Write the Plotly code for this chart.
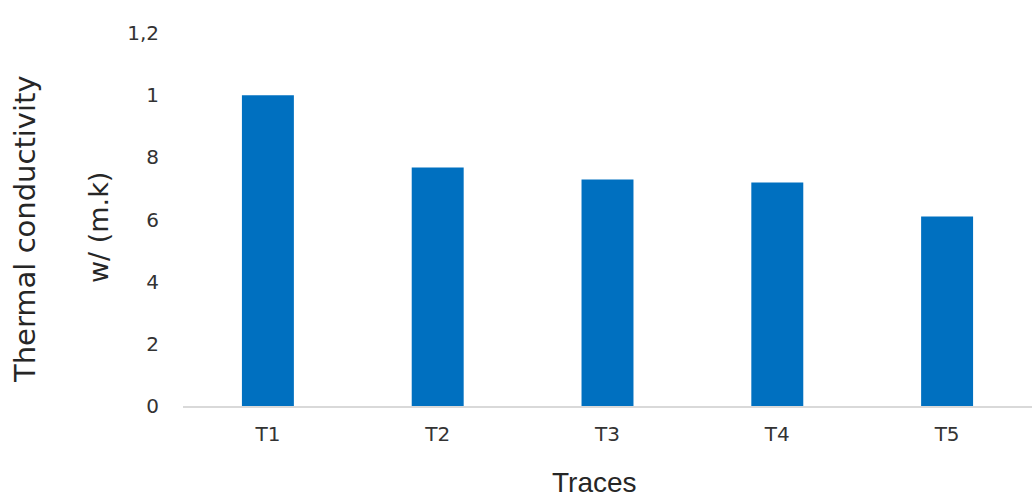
import plotly.graph_objects as go

# Measured thermal conductivity per trace
traces = ["T1", "T2", "T3", "T4", "T5"]
conductivity = [1.0, 0.767, 0.729, 0.719, 0.610]

# Y-axis ticks and their printed labels
y_tickvals = [0, 0.2, 0.4, 0.6, 0.8, 1.0, 1.2]
y_ticktext = ["0", "2", "4", "6", "8", "1", "1,2"]

# Plot area in pixels (used to place the free-standing titles)
L, R, T, B = 183, 3, 33, 91
W, H = 1035, 497
PW, PH = W - L - R, H - T - B


def px_x(x):
    return (x - L) / PW


def px_y(y):
    return (H - B - y) / PH


fig = go.Figure(
    go.Bar(
        x=traces,
        y=conductivity,
        marker=dict(color="#0070C0", line=dict(width=0)),
        width=0.306,
    )
)

fig.update_layout(
    width=W,
    height=H,
    margin=dict(l=L, r=R, t=T, b=B),
    paper_bgcolor="white",
    plot_bgcolor="white",
    showlegend=False,
    font=dict(family="DejaVu Sans, sans-serif", color="#3a3a3a"),
    xaxis=dict(
        showgrid=False,
        showline=True,
        linecolor="#d9d9d9",
        linewidth=1.5,
        ticks="",
        tickfont=dict(size=20, color="#333333"),
        ticklabelstandoff=9,
    ),
    yaxis=dict(
        range=[0, 1.2],
        tickvals=y_tickvals,
        ticktext=y_ticktext,
        showgrid=False,
        zeroline=False,
        showline=False,
        ticks="",
        tickfont=dict(size=20, color="#333333"),
        ticklabelstandoff=23,
    ),
    annotations=[
        dict(
            text="Thermal conductivity",
            textangle=-90,
            xref="paper", yref="paper",
            x=px_x(25), y=px_y(229),
            xanchor="center", yanchor="middle",
            showarrow=False,
            font=dict(size=29, color="#262626", family="DejaVu Sans, sans-serif"),
        ),
        dict(
            text="w/ (m.k)",
            textangle=-90,
            xref="paper", yref="paper",
            x=px_x(98), y=px_y(228),
            xanchor="center", yanchor="middle",
            showarrow=False,
            font=dict(size=27, color="#262626", family="DejaVu Sans, sans-serif"),
        ),
        dict(
            text="Traces",
            xref="paper", yref="paper",
            x=px_x(594), y=px_y(483),
            xanchor="center", yanchor="middle",
            showarrow=False,
            font=dict(size=28, color="#262626", family="Liberation Sans Narrow, Liberation Sans, sans-serif"),
        ),
    ],
)

fig.write_html("out.html")
